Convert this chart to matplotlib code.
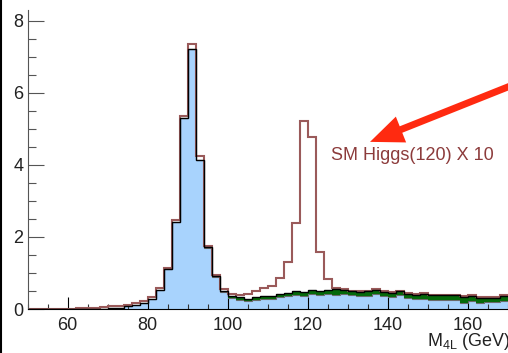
"""
plot.py - four-lepton invariant mass, ZZ background stack with SM Higgs(120) x 10.
"""
import matplotlib
matplotlib.use("Agg")
import matplotlib.pyplot as plt
from matplotlib.lines import Line2D
from matplotlib.ticker import MultipleLocator
import numpy as np

plt.rcParams.update({
    "font.family": ["Liberation Sans", "DejaVu Sans"],
    "font.size": 13,
    "mathtext.default": "regular",
})

# ── Data (2 GeV bins, 50-172 GeV) ─────────────────────────────────────────────
BIN_EDGES = np.arange(50, 174, 2)

# blue: ZZ background
ZZ_BKG = [
    0.00, 0.00, 0.00, 0.00, 0.00, 0.00, 0.00, 0.00, 0.00, 0.00,   # 50-68
    0.02, 0.04, 0.07, 0.11, 0.16, 0.27, 0.52, 1.10, 2.42, 5.30,   # 70-88
    7.22, 4.14, 1.68, 0.88, 0.47, 0.30, 0.25, 0.22, 0.25, 0.27,   # 90-108
    0.28, 0.33, 0.36, 0.40, 0.36, 0.42, 0.40, 0.41, 0.38, 0.42,   # 110-128
    0.38, 0.36, 0.37, 0.42, 0.36, 0.33, 0.38, 0.31, 0.27, 0.29,   # 130-148
    0.25, 0.25, 0.25, 0.25, 0.16, 0.23, 0.18, 0.20, 0.20, 0.23,   # 150-168
    0.23,                                                         # 170
]

# green: second background, stacked on ZZ
OTHER_BKG = [
    0.00, 0.00, 0.00, 0.00, 0.00, 0.00, 0.00, 0.00, 0.00, 0.00,
    0.00, 0.00, 0.00, 0.00, 0.00, 0.00, 0.00, 0.00, 0.00, 0.00,
    0.00, 0.00, 0.03, 0.03, 0.04, 0.06, 0.08, 0.07, 0.09, 0.09,
    0.09, 0.09, 0.09, 0.11, 0.11, 0.11, 0.09, 0.12, 0.18, 0.11,
    0.11, 0.11, 0.12, 0.11, 0.11, 0.11, 0.11, 0.11, 0.13, 0.13,
    0.13, 0.13, 0.13, 0.13, 0.18, 0.13, 0.12, 0.10, 0.10, 0.14,
    0.14,
]

# brown outline: SM Higgs(120) x 10, stacked on total background
HIGGS_X10 = [
    0.00, 0.00, 0.00, 0.00, 0.00, 0.00, 0.03, 0.03, 0.04, 0.05,
    0.06, 0.05, 0.05, 0.06, 0.05, 0.05, 0.05, 0.05, 0.05, 0.07,
    0.13, 0.11, 0.05, 0.03, 0.05, 0.05, 0.07, 0.12, 0.16, 0.21,
    0.28, 0.43, 0.85, 1.89, 4.76, 4.24, 1.10, 0.29, 0.01, 0.03,
    0.02, 0.02, 0.02, 0.02, 0.02, 0.02, 0.02, 0.02, 0.02, 0.02,
    0.02, 0.02, 0.02, 0.02, 0.02, 0.02, 0.02, 0.02, 0.02, 0.02,
    0.02,
]

SIGNAL_LABEL = "SM Higgs(120) X 10"
X_LABEL = r"M$_{4L}$ (GeV)"

zz = np.array(ZZ_BKG)
bkg_total = zz + np.array(OTHER_BKG)
sig_total = bkg_total + np.array(HIGGS_X10)

# ── Colours ───────────────────────────────────────────────────────────────────
C_BLUE = "#a8d3fd"
C_GREEN = "#05690a"
C_BROWN = "#9a5a5a"
C_TEXT = "#8c3b3b"
C_ARROW = "#ff2a10"

# ── Figure ────────────────────────────────────────────────────────────────────
fig = plt.figure(figsize=(5.08, 3.53), dpi=100)
ax = fig.add_axes([0.0545, 0.1246, 0.9455, 0.847])

ax.stairs(zz, BIN_EDGES, fill=True, color=C_BLUE, zorder=1)
ax.stairs(zz, BIN_EDGES, color="#6a6a6a", linewidth=0.8, zorder=2)
ax.stairs(bkg_total, BIN_EDGES, baseline=zz, fill=True, color=C_GREEN, zorder=2)
ax.stairs(sig_total, BIN_EDGES, color=C_BROWN, linewidth=1.5, zorder=3)
ax.stairs(bkg_total, BIN_EDGES, color="black", linewidth=1.0, zorder=4)

# annotation: label + big red arrow
ax.text(125.8, 4.25, SIGNAL_LABEL, color=C_TEXT, fontsize=13,
        ha="left", va="center", zorder=6)
ax.annotate("", xy=(135.6, 4.64), xytext=(172.0, 6.25),
            annotation_clip=False, zorder=6,
            arrowprops=dict(arrowstyle="simple,head_length=24,head_width=20,tail_width=5.0",
                            mutation_scale=1, fc=C_ARROW, ec=C_ARROW, lw=0,
                            shrinkA=0, shrinkB=0))

# axes formatting (ROOT-like: ticks inside, no top/right frame)
ax.set_xlim(50, 170.1)
ax.set_ylim(0, 8.3)
ax.xaxis.set_major_locator(MultipleLocator(20))
ax.xaxis.set_minor_locator(MultipleLocator(5))
ax.yaxis.set_major_locator(MultipleLocator(2))
ax.yaxis.set_minor_locator(MultipleLocator(0.5))
ax.tick_params(axis="x", which="major", direction="in", length=8.6, width=0.8,
               pad=6, colors="black", labelcolor="#222222")
ax.tick_params(axis="x", which="minor", direction="in", length=3.6, width=0.8,
               colors="#333333")
ax.tick_params(axis="y", which="major", direction="in", length=11.5, width=0.8,
               pad=3, color="#555555", labelcolor="#222222")
ax.tick_params(axis="y", which="minor", direction="in", length=5.8, width=0.8,
               color="#555555")
for side in ("top", "right"):
    ax.spines[side].set_visible(False)
ax.spines["left"].set_color("#555555")
ax.spines["bottom"].set_color("black")
for s in ax.spines.values():
    s.set_zorder(5)

fig.text(427 / 508, 11 / 353, X_LABEL, fontsize=13, color="#222222",
         ha="left", va="center")

# dark border strip on the left edge of the image
fig.add_artist(Line2D([0.002, 0.002], [0, 1], transform=fig.transFigure,
                      color="black", linewidth=1.5))

fig.savefig("out.png", dpi=100)
